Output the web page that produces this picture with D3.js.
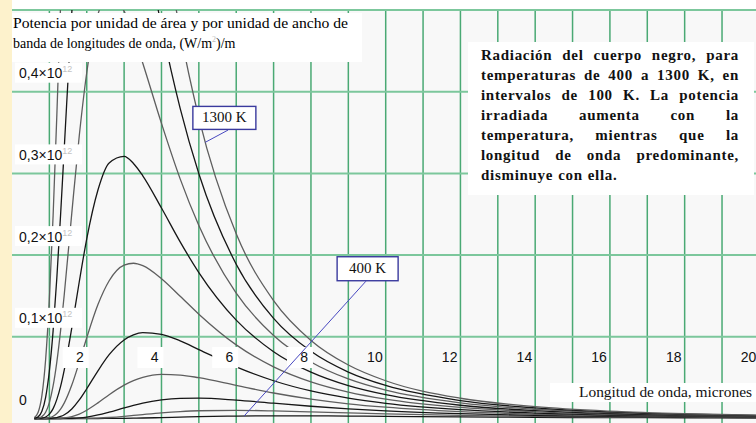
<!DOCTYPE html>
<html>
<head>
<meta charset="utf-8">
<script src="https://cdn.jsdelivr.net/npm/d3@7/dist/d3.min.js"></script>
<style>
body{margin:0;background:#fff;}
svg{display:block;}
</style>
</head>
<body>
<div class="chart_container"></div>
<script>
// longitudes de onda, micrones
var wavelengths = [0.6,0.7,0.8,0.9,1.0,1.1,1.2,1.3,1.4,1.6,1.8,2.0,2.3,2.6,3.0,3.25,3.5,4.0,4.5,5,6,7,8,9,10,12,14,16,18,20];
var temps = [400,500,600,700,800,900,1000,1100,1200,1300];
// potencia, en unidades de 10^12 (W/m2)/m
var t400  = [0,0,0,0,0,0,0,0,0,0,0,0,0,0.0001,0.0002,0.0004,0.0006,0.0011,0.0017,0.0023,0.0030,0.0033,0.0032,0.0030,0.0026,0.0020,0.0014,0.0011,0.0008,0.0006];
var t500  = [0,0,0,0,0,0,0,0,0,0,0.0001,0.0002,0.0005,0.0012,0.0026,0.0037,0.0048,0.0069,0.0085,0.0095,0.0100,0.0093,0.0081,0.0068,0.0056,0.0038,0.0026,0.0018,0.0013,0.0009];
var t600  = [0,0,0,0,0,0,0,0,0.0001,0.0003,0.0008,0.0018,0.0043,0.0078,0.0130,0.0161,0.0189,0.0228,0.0247,0.0250,0.0225,0.0187,0.0150,0.0119,0.0094,0.0059,0.0038,0.0026,0.0018,0.0013];
var t700  = [0,0,0,0,0,0,0.0001,0.0003,0.0007,0.0024,0.0054,0.0101,0.0191,0.0291,0.0408,0.0463,0.0503,0.0539,0.0532,0.0499,0.0405,0.0312,0.0237,0.0180,0.0138,0.0083,0.0052,0.0034,0.0023,0.0016];
var t800  = [0,0,0,0,0.0001,0.0005,0.0012,0.0025,0.0046,0.0117,0.0227,0.0364,0.0584,0.0781,0.0962,0.1024,0.1051,0.1031,0.0950,0.0844,0.0632,0.0462,0.0337,0.0249,0.0186,0.0108,0.0067,0.0043,0.0029,0.0020];
var t900  = [0,0,0.0001,0.0003,0.0011,0.0028,0.0062,0.0115,0.0191,0.0409,0.0689,0.0989,0.1394,0.1686,0.1877,0.1900,0.1870,0.1711,0.1497,0.1277,0.0901,0.0632,0.0448,0.0323,0.0237,0.0135,0.0082,0.0052,0.0035,0.0024];
var t1000 = [0,0.0001,0.0004,0.0018,0.0053,0.0121,0.0234,0.0393,0.0599,0.1110,0.1674,0.2199,0.2797,0.3128,0.3209,0.3122,0.2971,0.2576,0.2162,0.1786,0.1204,0.0818,0.0567,0.0402,0.0291,0.0162,0.0097,0.0061,0.0040,0.0028];
var t1100 = [0,0.0004,0.0023,0.0077,0.0195,0.0398,0.0694,0.1076,0.1524,0.2514,0.3461,0.4232,0.4946,0.5182,0.4986,0.4698,0.4349,0.3612,0.2933,0.2362,0.1534,0.1017,0.0692,0.0484,0.0347,0.0191,0.0113,0.0071,0.0046,0.0032];
var t1200 = [0.0003,0.0020,0.0088,0.0260,0.0581,0.1073,0.1722,0.2490,0.3323,0.4970,0.6349,0.7306,0.7963,0.7909,0.7209,0.6617,0.5992,0.4803,0.3797,0.2996,0.1888,0.1226,0.0822,0.0568,0.0404,0.0219,0.0129,0.0080,0.0052,0.0036];
var t1300 = [0.0012,0.0076,0.0280,0.0723,0.1461,0.2482,0.3715,0.5062,0.6423,0.8853,1.060,1.160,1.192,1.132,0.988,0.886,0.788,0.613,0.474,0.368,0.226,0.1443,0.0956,0.0655,0.0462,0.0248,0.0145,0.0090,0.0058,0.0040];
var series = [t400,t500,t600,t700,t800,t900,t1000,t1100,t1200,t1300];

var xTicks = [2,4,6,8,10,12,14,16,18,20];
var yTicks = [0,0.1,0.2,0.3,0.4];
var yTickLabels = ["0","0,1×10","0,2×10","0,3×10","0,4×10"];
var titleLines = ["Potencia por unidad de área y por unidad de ancho de","banda de longitudes de onda, (W/m"];
var xTitle = "Longitud de onda, micrones";
var noteLines = [
    "Radiación del cuerpo negro, para",
    "temperaturas de 400 a 1300 K, en",
    "intervalos de 100 K. La potencia",
    "irradiada aumenta con la",
    "temperatura, mientras que la",
    "longitud de onda predominante,",
    "disminuye con ella."
];
var tempLabels = ["1300 K","400 K"];

var width = 756, height = 423;
var svg = d3.select(".chart_container").append("svg")
    .attr("width",width)
    .attr("height",height);

var x = d3.scaleLinear().domain([0,20]).range([12,759.4]);
var y = d3.scaleLinear().domain([0,0.5]).range([418.5,10]);

// fondo
svg.append("rect").attr("x",0).attr("y",0).attr("width",12).attr("height",height).attr("fill","#fdf2cc");
svg.append("rect").attr("x",12).attr("y",y(0.5)).attr("width",width-12).attr("height",height-y(0.5)).attr("fill","#f8f8f8");

svg.append("clipPath").attr("id","plotclip")
    .append("rect").attr("x",12).attr("y",y(0.5)).attr("width",width-12).attr("height",height-y(0.5));

// rejilla
svg.append("g").selectAll("line")
    .data(d3.range(1,21))
    .enter().append("line")
    .attr("x1",function(d){return x(d);})
    .attr("x2",function(d){return x(d);})
    .attr("y1",y(0.5))
    .attr("y2",height)
    .attr("stroke","#4aa974")
    .attr("stroke-width",1.5);
svg.append("g").selectAll("line")
    .data([0.1,0.2,0.3,0.4,0.5])
    .enter().append("line")
    .attr("x1",12)
    .attr("x2",width)
    .attr("y1",function(d){return y(d);})
    .attr("y2",function(d){return y(d);})
    .attr("stroke","#7cc79c")
    .attr("stroke-width",2);

// curvas
var line = d3.line()
    .x(function(d,i){return x(wavelengths[i]);})
    .y(function(d){return y(d);})
    .curve(d3.curveMonotoneX);
svg.append("g").attr("clip-path","url(#plotclip)")
    .selectAll("path")
    .data(series)
    .enter().append("path")
    .attr("d",line)
    .attr("fill","none")
    .attr("stroke",function(d,i){return i%2 ? "#5e5e5e" : "#161616";})
    .attr("stroke-width",1.3);

// titulo del eje y
var title = svg.append("g");
title.append("rect").attr("x",12).attr("y",13).attr("width",350).attr("height",49).attr("fill","#fff");
title.append("text")
    .attr("x",13).attr("y",28)
    .attr("textLength",335).attr("lengthAdjust","spacingAndGlyphs")
    .style("font","14px 'Liberation Serif'")
    .text(titleLines[0]);
var t2 = title.append("text")
    .attr("x",13).attr("y",48)
    .style("font","14px 'Liberation Serif'");
t2.append("tspan").text(titleLines[1]);
t2.append("tspan").attr("dy",-6).attr("font-size",8).attr("fill","#bbb").text("2");
t2.append("tspan").attr("dy",6).text(")/m");

// etiquetas del eje y
var yl = svg.append("g").selectAll("g")
    .data(yTicks)
    .enter().append("g");
yl.filter(function(d){return d>0;}).append("rect")
    .attr("x",15).attr("y",function(d){return y(d)-29;})
    .attr("width",67).attr("height",20)
    .attr("fill","#fff");
var ylt = yl.append("text")
    .attr("x",19).attr("y",function(d){return y(d)-13.5;})
    .style("font","14px 'Liberation Sans'")
    .attr("fill","#111");
ylt.append("tspan").text(function(d,i){return yTickLabels[i];});
ylt.filter(function(d){return d>0;}).append("tspan")
    .attr("dy",-6).attr("font-size",9).attr("fill","#c4c4c4").text("12");

// etiquetas del eje x
var xl = svg.append("g").selectAll("g")
    .data(xTicks)
    .enter().append("g");
xl.append("text")
    .attr("x",function(d){return x(d)-3;})
    .attr("y",362)
    .attr("text-anchor","end")
    .style("font","14px 'Liberation Sans'")
    .attr("fill","#111")
    .text(function(d){return d;});
xl.filter(function(d){return d<10;}).insert("rect","text")
    .attr("x",function(d){return x(d)-24;})
    .attr("y",347)
    .attr("width",26).attr("height",21)
    .attr("fill","#fff");

// titulo del eje x
svg.append("rect").attr("x",550).attr("y",383).attr("width",206).attr("height",19).attr("fill","#fff");
svg.append("text")
    .attr("x",579).attr("y",397)
    .attr("textLength",173).attr("lengthAdjust","spacingAndGlyphs")
    .style("font","14px 'Liberation Serif'")
    .attr("fill","#111")
    .text(xTitle);

// nota
var note = svg.append("g");
note.append("rect").attr("x",468).attr("y",42).attr("width",286).attr("height",153).attr("fill","#fff");
noteLines.forEach(function(l,i){
    var words = l.split(" ");
    var texts = words.map(function(w){
        return note.append("text")
            .attr("y",60+i*20)
            .style("font","bold 15px 'Liberation Serif'")
            .style("letter-spacing","0.7px")
            .attr("fill","#111")
            .text(w);
    });
    var widths = texts.map(function(t){return t.node().getComputedTextLength();});
    var gap = i==noteLines.length-1 ? 5 : (739-481-d3.sum(widths))/(words.length-1);
    var cx = 481;
    texts.forEach(function(t,j){
        t.attr("x",cx);
        cx += widths[j]+gap;
    });
});

// etiquetas de temperatura
var boxes = [
    {x:4.84, y:0.382, w:63, h:23, from:[5.78,0.353], to:[5.17,0.338]},
    {x:8.70, y:0.198, w:61, h:24, from:[9.47,0.168], to:[6.21,0.003]}
];
boxes.forEach(function(b,i){
    var g = svg.append("g");
    g.append("line")
        .attr("x1",x(b.from[0])).attr("y1",y(b.from[1]))
        .attr("x2",x(b.to[0])).attr("y2",y(b.to[1]))
        .attr("stroke","#4848c0").attr("stroke-width",1);
    g.append("rect")
        .attr("x",x(b.x)).attr("y",y(b.y))
        .attr("width",b.w).attr("height",b.h)
        .attr("fill","#fff").attr("stroke","#3a3a9e").attr("stroke-width",1.4);
    g.append("text")
        .attr("x",x(b.x)+b.w/2).attr("y",y(b.y)+16)
        .attr("text-anchor","middle")
        .style("font","15px 'Liberation Serif'")
        .attr("fill","#111")
        .text(tempLabels[i]);
});
</script>
</body>
</html>
